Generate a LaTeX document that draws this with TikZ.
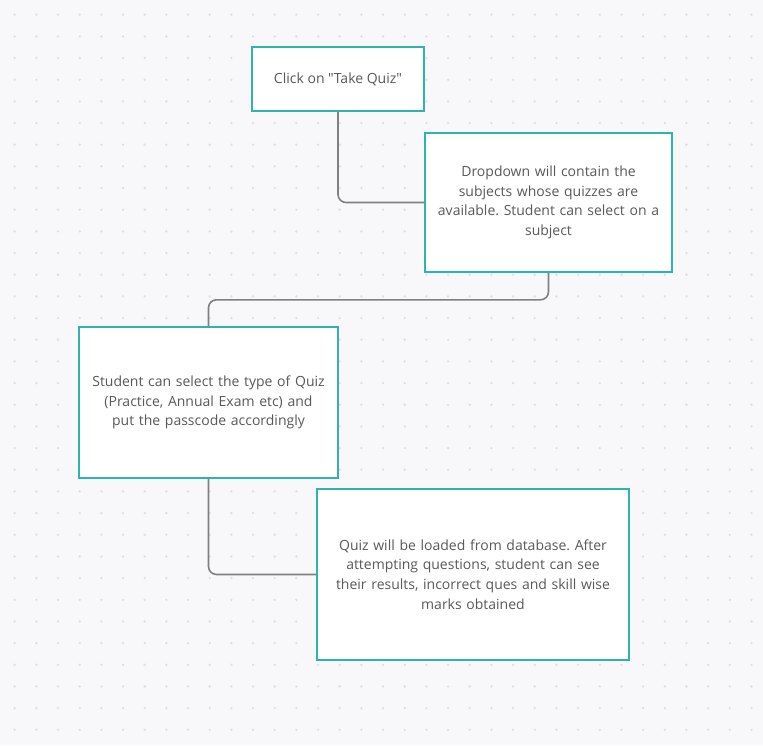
\documentclass[tikz,border=0pt]{standalone}
\usepackage{fontspec}
\setmainfont{Open Sans}
\usetikzlibrary{positioning}
\definecolor{quizteal}{HTML}{2DB4AE}
\definecolor{quizgray}{HTML}{808084}
\definecolor{quiztext}{HTML}{595959}
\definecolor{quizbg}{HTML}{F8F8FA}
\definecolor{quizdot}{HTML}{DFDFE3}
\frenchspacing
\tikzset{
    Step/.style = {rectangle, draw=quizteal, fill=white, line width=1.6pt,
        align=center, text=quiztext, inner sep=0pt}
}
\tikzset{
    Link/.style = {draw=quizgray, line width=1.6pt, rounded corners=8pt}
}
\begin{document}
\begin{tikzpicture}[
    x=1pt, y=-1pt,
    font=\fontsize{14}{19.7}\selectfont
]
\fill[quizbg] (0,0) rectangle (763,745);
\useasboundingbox (0,0) rectangle (763,745);
\foreach \i in {0,...,34}{
    \foreach \j in {0,...,34}{
        \fill[quizdot] (14.7+21.67*\i,14.7+21.67*\j) circle (1.3);
    }
}

\node[Step, minimum width=172, minimum height=64] at (338,79) (take) {Click on \textquotedbl Take Quiz\textquotedbl};
\node[Step, minimum width=247, minimum height=139, text width=240] at (548.5,202.5) (subject)
    {Dropdown will contain the\\ subjects whose quizzes are\\ available. Student can select on a\\ subject};
\node[Step, minimum width=259, minimum height=151, text width=250] at (208.5,402.5) (type)
    {Student can select the type of Quiz\\ (Practice, Annual Exam etc) and\\ put the passcode accordingly};
\node[Step, minimum width=312, minimum height=171, text width=300] at (473,574.5) (result)
    {Quiz will be loaded from database. After\\ attempting questions, student can see\\ their results, incorrect ques and skill wise\\ marks obtained};

\path[Link] (take.south) |- (subject.west);
\path[Link] (subject.south) -- ++(0,27) -| (type.north);
\path[Link] (type.south) |- (result.west);
\end{tikzpicture}
\end{document}
